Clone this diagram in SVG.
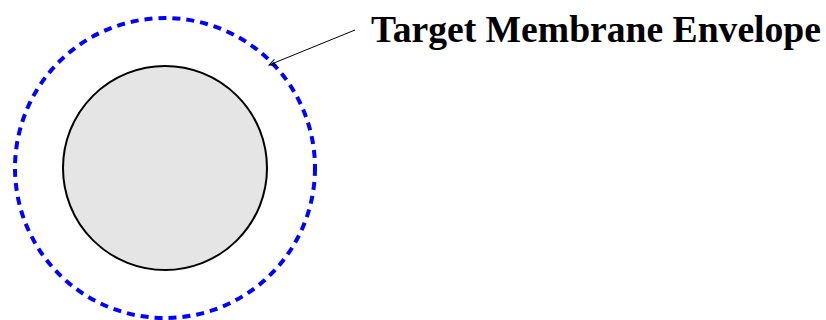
<svg xmlns="http://www.w3.org/2000/svg" width="826" height="320" viewBox="0 0 826 320">
<style>
.outer{fill:none;stroke:#0000ff;stroke-width:4;stroke-dasharray:8 6}
.inner{fill:#e5e5e5;stroke:#000;stroke-width:2}
.lead{fill:none;stroke:#000;stroke-width:1}
.label{font-family:"Liberation Serif","Times New Roman",serif;font-weight:bold;font-size:37.5px;fill:#000}
</style>
<defs>
<marker id="ah" viewBox="0 0 10 10" refX="9" refY="5" markerWidth="8" markerHeight="8" orient="auto" markerUnits="userSpaceOnUse">
<path d="M0,1 L9,5 L0,9" fill="none" stroke="#000" stroke-width="1.2"/>
</marker>
</defs>
<rect width="826" height="320" fill="#fff"/>
<g id="envelope"><circle class="outer" cx="165" cy="168" r="150"/></g>
<g id="core"><circle class="inner" cx="165" cy="168" r="102"/></g>
<g id="connectors"><line class="lead" x1="355" y1="30" x2="269" y2="65" marker-end="url(#ah)"/></g>
<g id="label"><text class="label" x="371" y="42" textLength="450" lengthAdjust="spacingAndGlyphs">Target Membrane Envelope</text></g>
</svg>
